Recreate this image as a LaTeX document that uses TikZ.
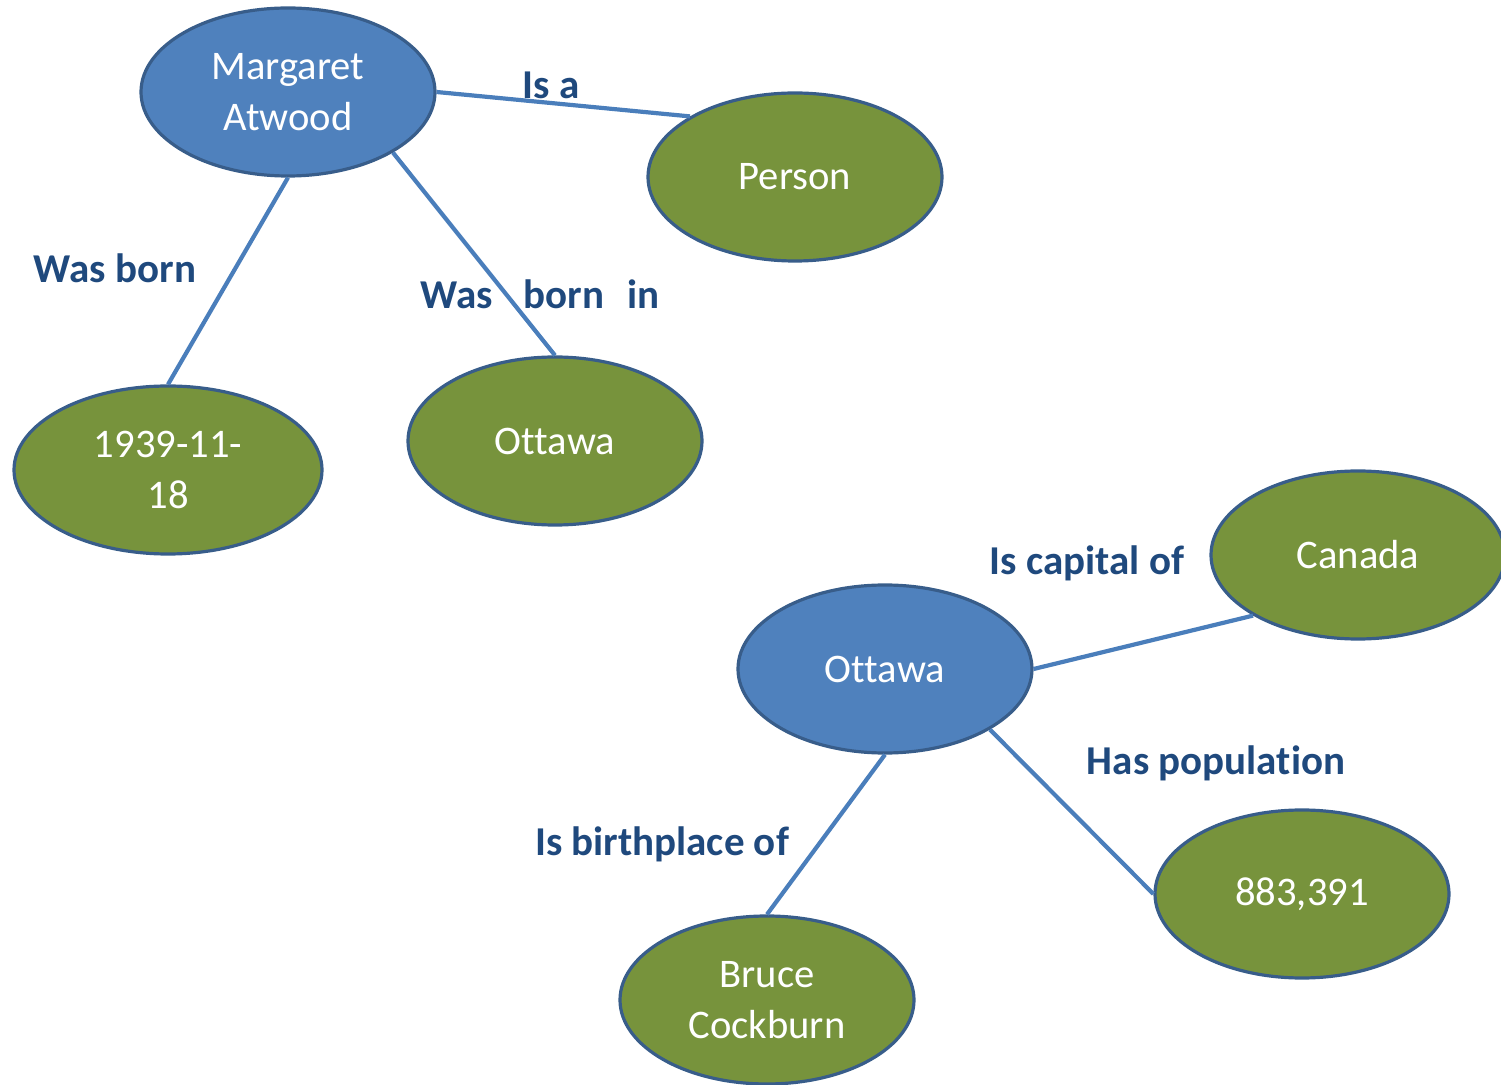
\documentclass[tikz,border=0pt]{standalone}
\usepackage{fontspec}
\setmainfont[Ligatures={NoCommon}]{Carlito}
\usetikzlibrary{shapes.geometric}
\definecolor{nodeblue}{HTML}{4F81BD}
\definecolor{nodegreen}{HTML}{77933C}
\definecolor{edgeline}{HTML}{385D8A}
\definecolor{connector}{HTML}{4A7EBB}
\definecolor{labeltext}{HTML}{1F497D}
\begin{document}
\begin{tikzpicture}[x=0.5pt,y=-0.5pt,
  ent/.style={ellipse, draw=edgeline, line width=1.6pt, minimum width=147pt, minimum height=84pt, inner sep=0pt, text=white, align=center, font=\fontsize{20.3}{25.5}\selectfont},
  subj/.style={ent, fill=nodeblue},
  obj/.style={ent, fill=nodegreen},
  rel/.style={text=labeltext, font=\bfseries\fontsize{20.5}{24}\selectfont, inner sep=0pt},
  link/.style={draw=connector, line width=2.1pt}]
\path[use as bounding box, clip] (0,0) rectangle (1501,1085);
% entities
\node[subj] (ma) at (288,92) {Margaret\\Atwood};
\node[obj] (person) at (795,177) {Person};
\node[obj, minimum width=154pt] (date) at (168,470) {1939-11-\\18};
\node[obj] (otta) at (555,441) {Ottawa};
\node[obj] (canada) at (1358,555) {Canada};
\node[subj] (ottb) at (885,669) {Ottawa};
\node[obj] (pop) at (1302,894) {883,391};
\node[obj] (bruce) at (767,1000) {Bruce\\Cockburn};
% labels
\node[rel] (l1) at (551,85) {Is a};
\node[rel] (l2) at (115,268) {Was born};
\node[rel] (l3) at (540,294) {Was\hspace{0.75em}born\hspace{0.55em}in};
\node[rel] (l4) at (1087,563) {Is capital of};
\node[rel] (l5) at (1216,763) {Has population};
\node[rel] (l6) at (662,844) {Is birthplace of};
% connectors
\draw[link] (ma.east) -- (person.150);
\draw[link] (ma.south) -- (date.north);
\draw[link] (ma.-30) -- (otta.north);
\draw[link] (ottb.east) -- (canada.210);
\draw[link] (ottb.-30) -- (pop.west);
\draw[link] (ottb.south) -- (bruce.north);
\end{tikzpicture}
\end{document}
